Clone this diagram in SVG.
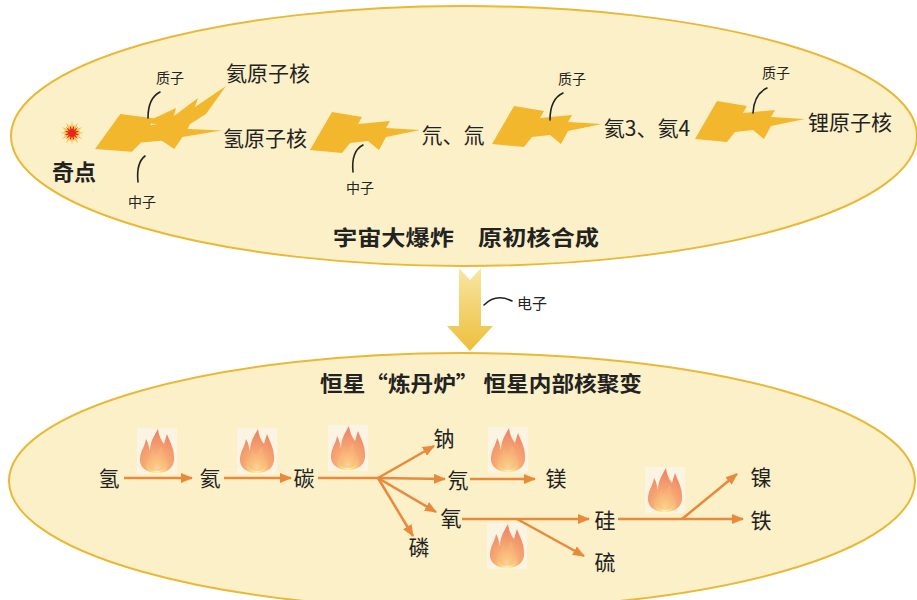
<svg xmlns="http://www.w3.org/2000/svg" xmlns:xlink="http://www.w3.org/1999/xlink" width="917" height="600" viewBox="0 0 917 600">
  <style>
    .zone { fill: #FBF0C8; stroke: #E9B935; stroke-width: 2; }
    .bolt { fill: #F2B72C; }
    .cn { font-family: "Noto Sans CJK SC", "Noto Sans", sans-serif; fill: #222; }
    .lbl { font-size: 21px; text-anchor: middle; }
    .small { font-size: 14px; text-anchor: middle; }
    .title { font-size: 21px; font-weight: bold; text-anchor: middle; }
    .tick { fill: none; stroke: #222; stroke-width: 1.6; stroke-linecap: round; }
    .flow { stroke: #E8893B; stroke-width: 2.5; fill: none; }
    .flow-end { stroke: #E8893B; stroke-width: 2.5; fill: none; marker-end: url(#head); }
  </style>
  <defs>
    <marker id="head" markerUnits="userSpaceOnUse" markerWidth="12" markerHeight="10" refX="11" refY="5" orient="auto">
      <path d="M0,0 L12,5 L0,10 Z" fill="#E8893B"/>
    </marker>
    <path id="bolt" d="M0,38 L22,0 L52,5 L48,12 L80,9 L76,16 L110,18 L76,25 L69,38 L58,29 L40,31 L32,41 Z"/>
    <radialGradient id="fire" cx="0.5" cy="0.9" r="0.8">
      <stop offset="0" stop-color="#FFFFF0"/>
      <stop offset="0.15" stop-color="#FCE27A"/>
      <stop offset="0.45" stop-color="#F6A268"/>
      <stop offset="1" stop-color="#EE7A58"/>
    </radialGradient>
    <linearGradient id="down" x1="0" y1="0" x2="0" y2="1">
      <stop offset="0" stop-color="#F8E6A4"/>
      <stop offset="1" stop-color="#EDBF3A"/>
    </linearGradient>
    <g id="flame">
      <rect x="0" y="0" width="40" height="46" fill="#FBF4E2"/>
      <path d="M20,45 C8,45 2,38 3,30 C4,22 8,18 9,11 C12,16 12,20 13,23 C13,14 17,8 21,1 C22,8 24,12 27,16 C28,12 29,9 30,6 C33,14 37,20 37,29 C38,39 31,45 20,45 Z" fill="url(#fire)" opacity="0.9"/>
      <path d="M20,43 C13,43 10,38 11,33 C12,28 15,26 16,21 C18,25 18,28 19,30 C20,25 22,21 25,18 C25,23 27,26 28,29 C30,33 29,43 20,43 Z" fill="#F8B27C" opacity="0.6"/>
    </g>
  </defs>

  <rect width="917" height="600" fill="#FFFFFF"/>

  <!-- upper zone: big bang nucleosynthesis -->
  <g id="zone-bigbang">
    <ellipse class="zone" cx="464" cy="136" rx="453" ry="130"/>
    <text class="cn title" x="466" y="245" textLength="266" lengthAdjust="spacingAndGlyphs">宇宙大爆炸　原初核合成</text>
  </g>

  <!-- lower zone: stellar fusion -->
  <g id="zone-star">
    <ellipse class="zone" cx="462" cy="481" rx="453" ry="128"/>
    <text class="cn title" x="481" y="391" textLength="322" lengthAdjust="spacingAndGlyphs">恒星“炼丹炉” 恒星内部核聚变</text>
  </g>

  <!-- transfer arrow between zones -->
  <g id="electron-arrow">
    <polygon points="459,268 470,280 481,268 481,326 493,326 470,351 447,326 459,326" fill="url(#down)"/>
    <path class="tick" d="M484,305 Q496,293 512,301"/>
    <text class="cn" x="517" y="309" font-size="15">电子</text>
  </g>

  <!-- singularity -->
  <g id="singularity">
    <g transform="translate(72,133)">
      <polygon fill="#F6C23A" points="12,0 4.83,1.29 10.39,6 3.54,3.54 6,10.39 1.29,4.83 0,12 -1.29,4.83 -6,10.39 -3.54,3.54 -10.39,6 -4.83,1.29 -12,0 -4.83,-1.29 -10.39,-6 -3.54,-3.54 -6,-10.39 -1.29,-4.83 0,-12 1.29,-4.83 6,-10.39 3.54,-3.54 10.39,-6 4.83,-1.29"/>
      <polygon fill="#E8241E" transform="rotate(15) scale(0.72)" points="12,0 4.83,1.29 10.39,6 3.54,3.54 6,10.39 1.29,4.83 0,12 -1.29,4.83 -6,10.39 -3.54,3.54 -10.39,6 -4.83,1.29 -12,0 -4.83,-1.29 -10.39,-6 -3.54,-3.54 -6,-10.39 -1.29,-4.83 0,-12 1.29,-4.83 6,-10.39 3.54,-3.54 10.39,-6 4.83,-1.29"/>
    </g>
    <text class="cn" x="52" y="180" font-size="22" font-weight="bold">奇点</text>
  </g>

  <!-- first burst: singularity to H and He nuclei -->
  <g id="burst-1">
    <use href="#bolt" class="bolt" transform="translate(95,114) scale(1.15,0.92)"/>
    <path class="bolt" d="M146,122 L176,108 L174,116 L198,98 L195,107 L226,86 L206,114 L190,124 L186,132 Z"/>
    <path class="tick" d="M160,92 Q148,98 148,118"/>
    <text class="cn small" x="170" y="83">质子</text>
    <path class="tick" d="M145,156 Q136,163 138,182"/>
    <text class="cn small" x="142" y="207">中子</text>
  </g>

  <g id="nucleus-he">
    <text class="cn lbl" x="268" y="81">氦原子核</text>
  </g>
  <g id="nucleus-h">
    <text class="cn lbl" x="265" y="146">氢原子核</text>
  </g>

  <g id="burst-2">
    <use href="#bolt" class="bolt" transform="translate(310,112)"/>
    <path class="tick" d="M363,145 Q351,151 353,172"/>
    <text class="cn small" x="360" y="193">中子</text>
  </g>

  <g id="nucleus-dt">
    <text class="cn lbl" x="453" y="143">氘、氚</text>
  </g>

  <g id="burst-3">
    <use href="#bolt" class="bolt" transform="translate(492,106)"/>
    <path class="tick" d="M563,93 Q550,99 550,120"/>
    <text class="cn small" x="572" y="84">质子</text>
  </g>

  <g id="nucleus-he34">
    <text class="cn lbl" x="647" y="136">氦3、氦4</text>
  </g>

  <g id="burst-4">
    <use href="#bolt" class="bolt" transform="translate(695,101)"/>
    <path class="tick" d="M767,88 Q754,94 753,113"/>
    <text class="cn small" x="776" y="78">质子</text>
  </g>

  <g id="nucleus-li">
    <text class="cn lbl" x="850" y="130">锂原子核</text>
  </g>

  <!-- stellar fusion flames -->
  <g id="flames">
    <use href="#flame" x="137" y="428"/>
    <use href="#flame" x="237" y="428"/>
    <use href="#flame" x="328" y="425"/>
    <use href="#flame" x="488" y="427"/>
    <use href="#flame" x="645" y="467"/>
    <use href="#flame" x="487" y="523"/>
  </g>

  <!-- fusion connectors -->
  <g id="connectors">
    <line class="flow-end" x1="124" y1="478" x2="192" y2="478"/>
    <line class="flow-end" x1="224" y1="478" x2="291" y2="478"/>
    <line class="flow" x1="318" y1="478" x2="378" y2="478"/>
    <line class="flow-end" x1="378" y1="478" x2="445" y2="479"/>
    <line class="flow-end" x1="378" y1="478" x2="434" y2="446"/>
    <line class="flow-end" x1="378" y1="478" x2="436" y2="512"/>
    <line class="flow-end" x1="378" y1="478" x2="413" y2="536"/>
    <line class="flow-end" x1="470" y1="479" x2="535" y2="479"/>
    <line class="flow-end" x1="462" y1="519" x2="589" y2="519"/>
    <line class="flow-end" x1="517" y1="519" x2="584" y2="556"/>
    <line class="flow-end" x1="618" y1="519" x2="743" y2="519"/>
    <line class="flow-end" x1="682" y1="519" x2="737" y2="474"/>
  </g>

  <!-- elements -->
  <g id="el-h"><text class="cn lbl" x="109" y="486">氢</text></g>
  <g id="el-he"><text class="cn lbl" x="210" y="486">氦</text></g>
  <g id="el-c"><text class="cn lbl" x="304" y="486">碳</text></g>
  <g id="el-na"><text class="cn lbl" x="444" y="446">钠</text></g>
  <g id="el-ne"><text class="cn lbl" x="458" y="488">氖</text></g>
  <g id="el-mg"><text class="cn lbl" x="556" y="486">镁</text></g>
  <g id="el-o"><text class="cn lbl" x="451" y="526">氧</text></g>
  <g id="el-p"><text class="cn lbl" x="419" y="555">磷</text></g>
  <g id="el-si"><text class="cn lbl" x="605" y="528">硅</text></g>
  <g id="el-s"><text class="cn lbl" x="605" y="570">硫</text></g>
  <g id="el-ni"><text class="cn lbl" x="761" y="485">镍</text></g>
  <g id="el-fe"><text class="cn lbl" x="761" y="528">铁</text></g>
</svg>
